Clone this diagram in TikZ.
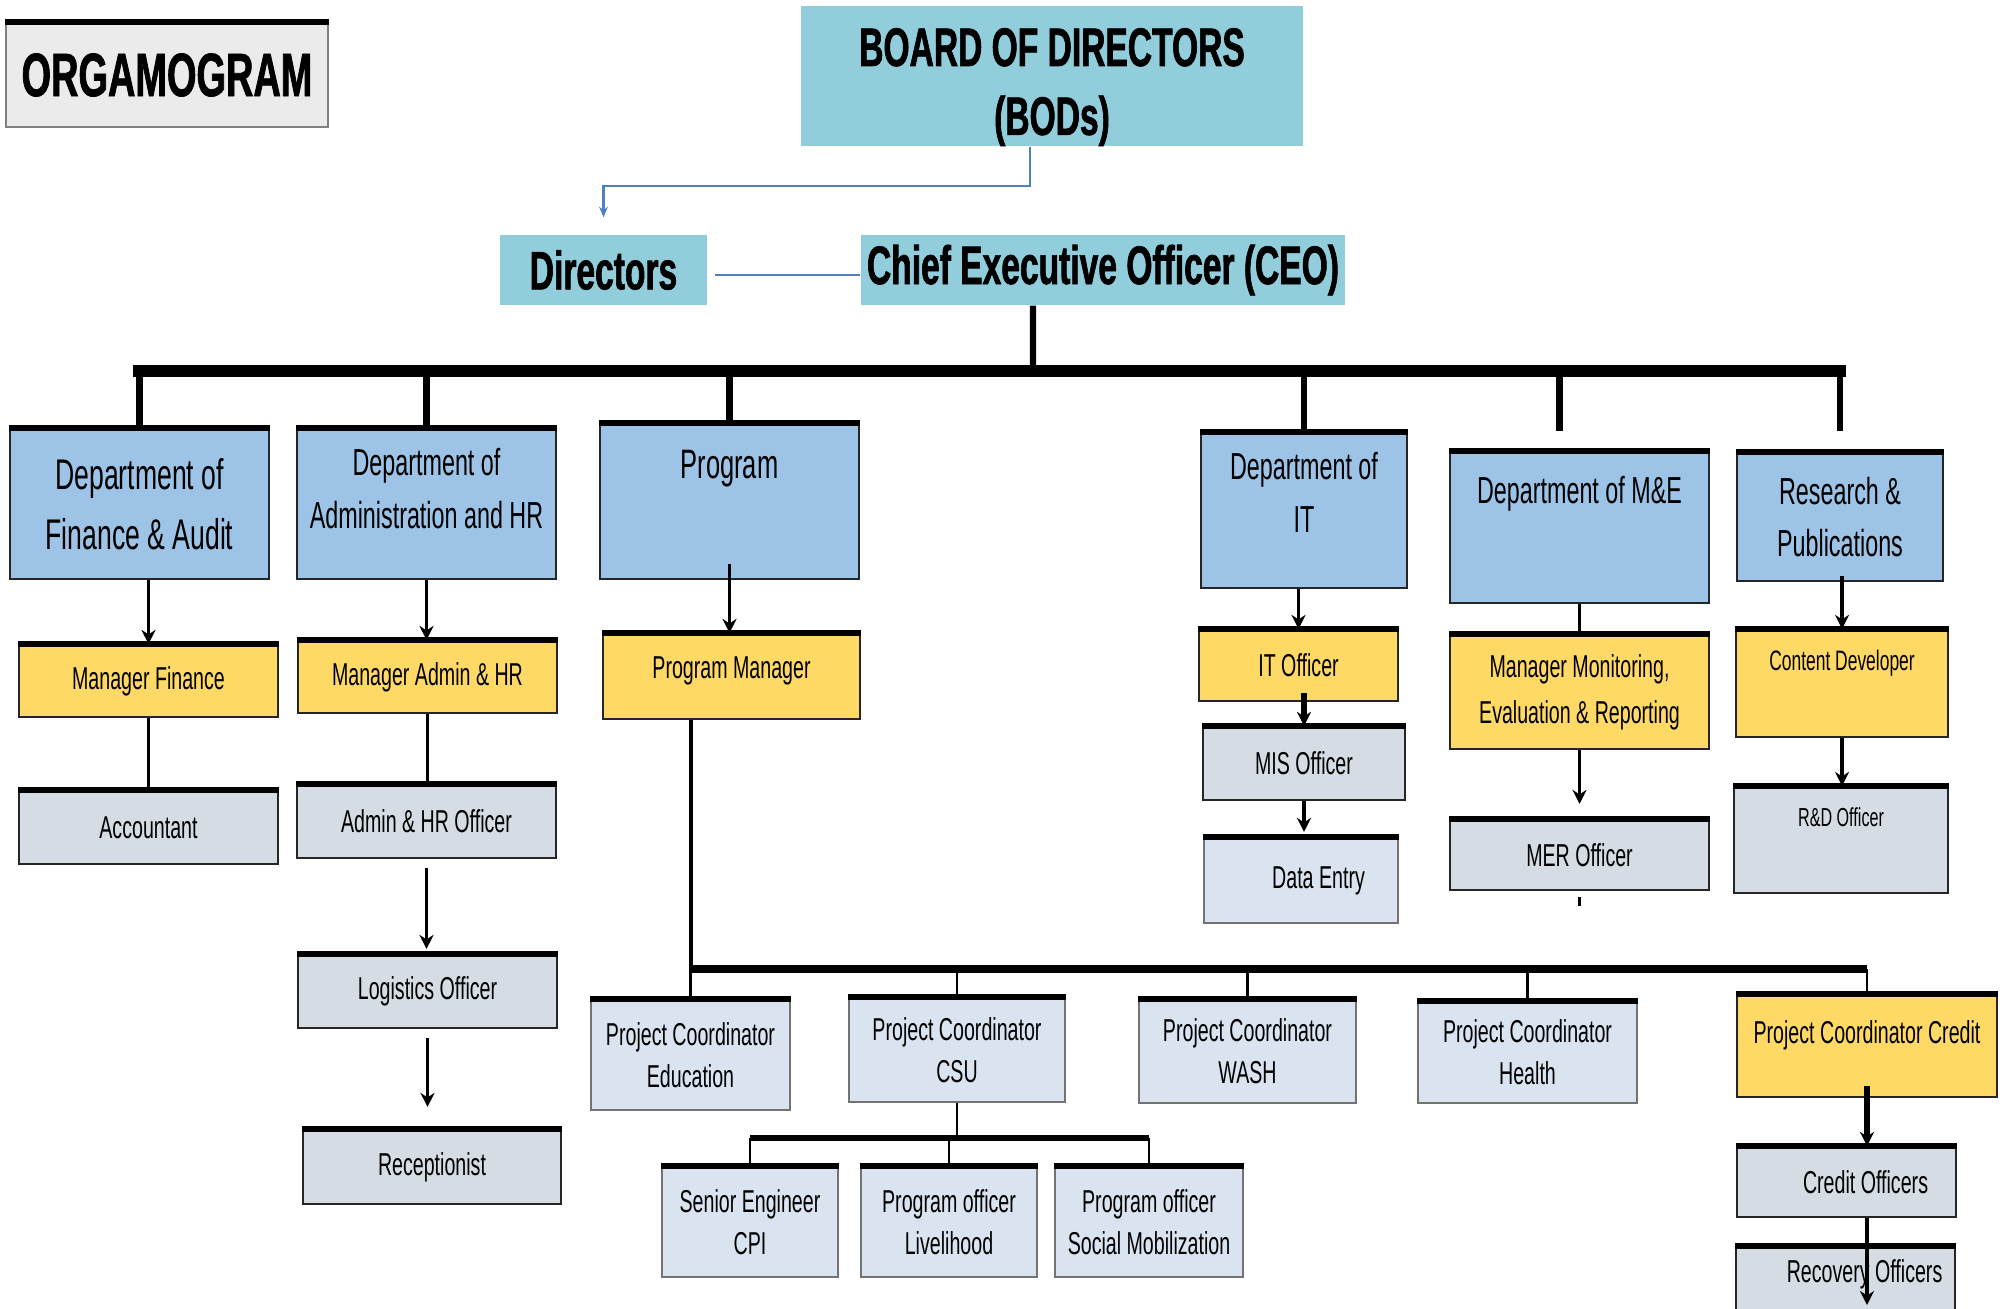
\documentclass[tikz,border=0pt]{standalone}
\usepackage{fontspec}
\setmainfont[FakeStretch=0.62, BoldFeatures={FakeBold=1.2}]{Liberation Sans}
\usetikzlibrary{arrows.meta}
\definecolor{headBlue}{HTML}{92CDDC}
\definecolor{deptBlue}{HTML}{9DC3E6}
\definecolor{mgrYellow}{HTML}{FFD966}
\definecolor{staffGray}{HTML}{D6DCE4}
\definecolor{coordGray}{HTML}{DAE3F0}
\definecolor{titleGray}{HTML}{EBEBEB}
\definecolor{lineBlue}{HTML}{4F81BD}
\begin{document}
\begin{tikzpicture}[x=0.01cm, y=-0.01cm,
  box/.style={rectangle, draw=black!85, line width=0.6pt, inner sep=2pt, align=center,
    append after command={(\tikzlastnode.north west) edge[draw=black, line width=1.6pt] (\tikzlastnode.north east)}},
  head/.style={rectangle, fill=headBlue, inner sep=0pt, align=center, font=\bfseries\fontsize{15.4pt}{19.6pt}\selectfont},
  dept/.style={box, fill=deptBlue, font=\fontsize{10.7pt}{15pt}\selectfont},
  mgr/.style={box, fill=mgrYellow, font=\fontsize{9pt}{13pt}\selectfont},
  staff/.style={box, fill=staffGray, font=\fontsize{9pt}{13pt}\selectfont},
  coord/.style={box, draw=black!55, fill=coordGray, font=\fontsize{9pt}{12pt}\selectfont},
  arr/.style={line width=1.1pt, -{Stealth[length=4pt, width=4pt]}},
  stem/.style={line width=1.1pt},
  twig/.style={line width=0.7pt},
  drop/.style={line width=1.8pt},
  busline/.style={line width=3.6pt, line cap=rect},
  bline/.style={draw=lineBlue, line width=0.7pt}]
\useasboundingbox[fill=white] (0,0) rectangle (2007,1308);

\node[box, draw=black!50, fill=titleGray, minimum width=3.22cm, minimum height=1.04cm, font=\bfseries\fontsize{17.4pt}{20pt}\selectfont] (title) at (167,75) {ORGAMOGRAM};
\node[head, minimum width=5.02cm, minimum height=1.40cm] (board) at (1052,76) {\rule{0pt}{0.6cm}BOARD OF DIRECTORS\\(BODs)};
\node[head, minimum width=2.07cm, minimum height=0.70cm] (directors) at (603.5,270) {Directors};
\node[head, minimum width=4.84cm, minimum height=0.70cm] (ceo) at (1103,270) {Chief Executive Officer (CEO)};
\draw[bline, -{Stealth[length=3pt, width=2.5pt]}] ([xshift=-0.22cm]board.south) -- ++(0,39) -| ([yshift=0.17cm]directors.north);
\draw[bline] ([xshift=0.07cm, yshift=-0.05cm]directors.east) -- ([yshift=-0.05cm]ceo.west);

\node[dept, minimum width=2.59cm, minimum height=1.50cm, font=\fontsize{12.2pt}{17pt}\selectfont] (deptFinance) at (139.5,504) {Department of\\Finance \& Audit};
\node[dept, minimum width=2.59cm, minimum height=1.50cm] (deptAdmin) at (426.5,504) {Department of\\Administration and HR\rule[-0.32cm]{0pt}{0.32cm}};
\node[dept, minimum width=2.59cm, minimum height=1.55cm, font=\fontsize{11.7pt}{15pt}\selectfont, text height=8.4pt, text depth=0.76cm] (deptProgram) at (729.5,501.5) {Program};
\node[dept, minimum width=2.06cm, minimum height=1.55cm] (deptIT) at (1304,510.5) {Department of\\IT\rule[-0.36cm]{0pt}{0.36cm}};
\node[dept, minimum width=2.59cm, minimum height=1.51cm, text height=7.7pt, text depth=0.76cm] (deptME) at (1579.5,527.5) {Department of M\&E};
\node[dept, minimum width=2.06cm, minimum height=1.28cm] (deptResearch) at (1840,517) {Research \&\\Publications};

\coordinate (bus) at (1033,371);
\draw[drop] ([xshift=-0.70cm]ceo.south) -- (bus);
\draw[busline] (deptFinance.north |- bus) -- (deptResearch.north |- bus);
\foreach \d in {deptFinance,deptAdmin,deptProgram,deptIT}
  \draw[drop] (\d.north |- bus) -- (\d.north);
\draw[drop] ([xshift=-0.20cm]deptME.north |- bus) -- ++(0,60);
\draw[drop] (deptResearch.north |- bus) -- ++(0,60);

\node[mgr, minimum width=2.59cm, minimum height=0.72cm] (mgrFinance) at (148.5,681) {Manager Finance};
\node[mgr, minimum width=2.59cm, minimum height=0.72cm] (mgrAdmin) at (427.5,677) {Manager Admin \& HR};
\node[mgr, minimum width=2.57cm, minimum height=0.85cm, text height=6.5pt, text depth=0.18cm] (mgrProgram) at (731.5,676.5) {Program Manager};
\node[mgr, minimum width=1.99cm, minimum height=0.71cm] (officerIT) at (1298.5,665.5) {IT Officer};
\node[mgr, minimum width=2.59cm, minimum height=1.14cm] (mgrME) at (1579.5,692) {Manager Monitoring,\\Evaluation \& Reporting};
\node[mgr, minimum width=2.12cm, minimum height=1.07cm, font=\fontsize{8pt}{10pt}\selectfont, text height=5.8pt, text depth=0.46cm] (contentDev) at (1842,683.5) {Content Developer};

\node[staff, minimum width=2.59cm, minimum height=0.73cm] (accountant) at (148.5,827.5) {Accountant};
\node[staff, minimum width=2.59cm, minimum height=0.73cm] (officerAdmin) at (426.5,821.5) {Admin \& HR Officer};
\node[staff, minimum width=2.59cm, minimum height=0.73cm] (officerLogistics) at (427.5,991.5) {Logistics Officer};
\node[staff, minimum width=2.58cm, minimum height=0.74cm] (receptionist) at (432,1167) {Receptionist};
\node[staff, minimum width=2.02cm, minimum height=0.73cm] (officerMIS) at (1304,763.5) {MIS Officer};
\node[coord, minimum width=1.94cm, minimum height=0.85cm] (dataEntry) at (1301,880.5) {\hspace*{0.35cm}Data Entry};
\node[staff, minimum width=2.59cm, minimum height=0.70cm] (officerMER) at (1579.5,855) {MER Officer};
\node[staff, minimum width=2.14cm, minimum height=1.06cm, font=\fontsize{7.4pt}{9pt}\selectfont, text height=5.3pt, text depth=0.46cm] (officerRD) at (1841,840) {R\&D Officer};

\draw[arr] (mgrFinance.north |- deptFinance.south) -- (mgrFinance.north);
\draw[stem] (mgrFinance.south) -- (accountant.north);
\draw[arr] (deptAdmin.south) -- (deptAdmin.south |- mgrAdmin.north);
\draw[stem] (mgrAdmin.south) -- (mgrAdmin.south |- officerAdmin.north);
\draw[arr] ([yshift=-0.09cm]officerAdmin.south) -- ([yshift=0.05cm]officerAdmin.south |- officerLogistics.north);
\draw[arr] ([yshift=-0.09cm]officerLogistics.south) -- ([yshift=0.22cm]officerLogistics.south |- receptionist.north);
\draw[arr] ([yshift=0.16cm]deptProgram.south) -- (deptProgram.south |- mgrProgram.north);
\draw[arr] (officerIT.north |- deptIT.south) -- (officerIT.north);
\draw[line width=1.8pt, -{Stealth[length=4pt, width=4pt]}] ([yshift=0.09cm]officerMIS.north |- officerIT.south) -- (officerMIS.north);
\draw[arr] (officerMIS.south) -- ([yshift=0.05cm]officerMIS.south |- dataEntry.north);
\draw[stem] (deptME.south) -- (mgrME.north);
\draw[arr] (mgrME.south) -- ([yshift=0.15cm]officerMER.north);
\draw[stem] ([yshift=-0.06cm]officerMER.south) -- ++(0,9);
\draw[arr] ([yshift=0.06cm]contentDev.north |- deptResearch.south) -- (contentDev.north);
\draw[arr] (contentDev.south) -- (contentDev.south |- officerRD.north);

\node[coord, minimum width=1.99cm, minimum height=1.10cm] (coordEducation) at (690.5,1055) {Project Coordinator\\Education};
\node[coord, minimum width=2.16cm, minimum height=1.04cm] (coordCSU) at (957,1050) {Project Coordinator\\CSU};
\node[coord, minimum width=2.17cm, minimum height=1.03cm] (coordWASH) at (1247.5,1051.5) {Project Coordinator\\WASH};
\node[coord, minimum width=2.19cm, minimum height=1.01cm] (coordHealth) at (1527.5,1052.5) {Project Coordinator\\Health};
\node[mgr, minimum width=2.60cm, minimum height=1.02cm, text height=6.5pt, text depth=0.28cm] (coordCredit) at (1867,1046) {Project Coordinator Credit};

\coordinate (progBus) at (691,969);
\draw[stem] ([xshift=-0.405cm]mgrProgram.south) -- (progBus);
\draw[line width=2.2pt] (progBus) -- (coordCredit.north |- progBus);
\foreach \c in {coordEducation,coordCSU,coordWASH,coordHealth,coordCredit}
  \draw[twig] (\c.north |- progBus) -- (\c.north);

\node[coord, minimum width=1.76cm, minimum height=1.10cm] (seniorEngineer) at (750,1222) {Senior Engineer\\CPI};
\node[coord, minimum width=1.76cm, minimum height=1.10cm] (officerLivelihood) at (949,1222) {Program officer\\Livelihood};
\node[coord, minimum width=1.88cm, minimum height=1.10cm] (officerSocial) at (1149,1222) {Program officer\\Social Mobilization};

\coordinate (csuBus) at (957,1138);
\draw[twig] (coordCSU.south) -- (csuBus);
\draw[line width=1.7pt] (seniorEngineer.north |- csuBus) -- (officerSocial.north |- csuBus);
\foreach \s in {seniorEngineer,officerLivelihood,officerSocial}
  \draw[twig] (\s.north |- csuBus) -- (\s.north);

\node[staff, minimum width=2.19cm, minimum height=0.70cm] (creditOfficers) at (1846.5,1182) {\hspace*{0.38cm}Credit Officers};
\node[staff, minimum width=2.19cm, minimum height=0.70cm, text height=6.5pt, text depth=0.22cm] (recoveryOfficers) at (1845.5,1282) {\hspace*{0.38cm}Recovery Officers};
\draw[line width=1.5pt, -{Stealth[length=4pt, width=4pt]}] ([yshift=0.12cm]coordCredit.south) -- (coordCredit.south |- creditOfficers.north);
\draw[arr] (coordCredit.south |- creditOfficers.south) -- ([yshift=-0.23cm]coordCredit.south |- recoveryOfficers.center);
\end{tikzpicture}
\end{document}
